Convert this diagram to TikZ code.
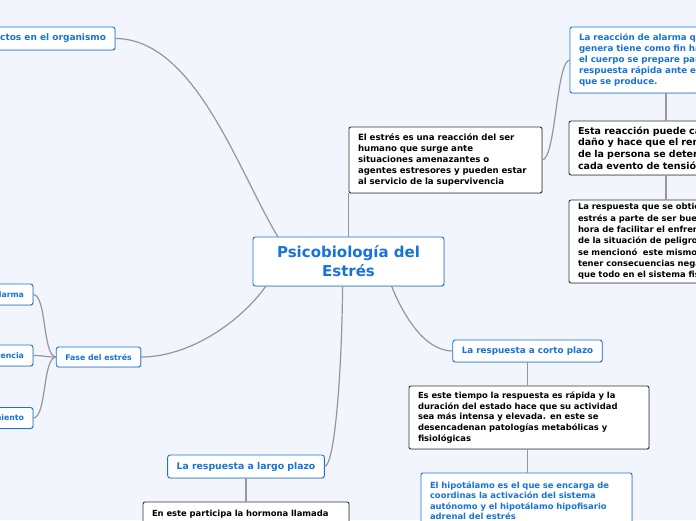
\documentclass[tikz,border=0pt]{standalone}
\usepackage{fontspec}
\setmainfont{DejaVu Sans}
\usetikzlibrary{shadows}
\definecolor{azul}{RGB}{24,115,216}
\definecolor{fondo}{RGB}{242,245,252}
\definecolor{gris}{RGB}{150,150,156}
\begin{document}
\begin{tikzpicture}[x=1pt,y=-1pt,
  fs/.style 2 args={font=\fontsize{#1}{#2}\selectfont\bfseries},
  sombra/.style={drop shadow={shadow xshift=0.8pt,shadow yshift=-0.8pt,opacity=0.25}},
  tema/.style={draw=azul,fill=white,text=azul,rounded corners=2.5pt,line width=0.9pt,inner xsep=9pt,inner ysep=0pt,outer sep=0pt,sombra},
  nota/.style={draw=black!80,fill=white,rounded corners=2pt,line width=0.9pt,anchor=north west,align=left,inner xsep=9pt,inner ysep=0pt,outer sep=0pt,sombra},
  notaz/.style={nota,draw=azul,text=azul},
  con/.style={draw=gris,line width=1.2pt}]
\useasboundingbox (0,0) rectangle (696,520);
\clip (0,0) rectangle (696,520);
\fill[fondo] (0,0) rectangle (696,520);
\node[tema,fs={15}{19},align=center,minimum width=191pt,minimum height=49pt] (psy) at (348.5,261.5) {Psicobiología del\\Estrés};
\node[tema,fs={9}{11},anchor=east,minimum height=23pt] (efe) at (115,38.5) {Efectos en el organismo};
\node[nota,fs={8.6}{11},text width=175pt,minimum height=66pt] (est) at (349,127) {El estrés es una reacción del ser\\humano que surge ante\\situaciones amenazantes o\\agentes estresores y pueden estar\\al servicio de la supervivencia};
\node[notaz,fs={8.7}{11},text width=190pt,minimum height=66pt] (ala1) at (570,27) {La reacción de alarma que se\\genera tiene como fin hacer que\\el cuerpo se prepare para una\\respuesta rápida ante el estímulo\\que se produce.};
\node[nota,fs={9.5}{11.7},text width=190pt,minimum height=54pt] (ala2) at (569,121) {Esta reacción puede causar\\daño y hace que el rendimiento\\de la persona se deteriore en\\cada evento de tensión};
\node[nota,fs={8.4}{11.3},text width=190pt,minimum height=83pt] (ala3) at (569,200) {La respuesta que se obtiene del\\estrés a parte de ser buena a la\\hora de facilitar el enfrentamiento\\de la situación de peligro, como\\se mencionó \ este mismo puede\\tener consecuencias negativas sobre\\que todo en el sistema fisiológico};
\node[tema,fs={7.8}{9},minimum width=83pt,minimum height=20pt] (fase) at (98.5,357) {Fase del estrés};
\node[tema,fs={7.8}{9},anchor=east,minimum height=21pt] (alar) at (33,294.5) {Alarma};
\node[tema,fs={7.8}{9},anchor=east,minimum height=21pt] (resi) at (33,355.5) {Resistencia};
\node[tema,fs={7.8}{9},anchor=east,minimum height=21pt] (agot) at (33,418) {Agotamiento};
\node[tema,fs={8.8}{11},minimum width=149pt,minimum height=22pt] (corto) at (527.5,351) {La respuesta a corto plazo};
\node[nota,fs={8.4}{10.7},text width=222pt,minimum height=63pt] (rap) at (409,386) {Es este tiempo la respuesta es rápida y la\\duración del estado hace que su actividad\\sea más intensa y elevada. en este se\\desencadenan patologías metabólicas y\\fisiológicas};
\node[notaz,fs={8.4}{10.4},text width=193pt,minimum height=55pt] (hipo) at (421,473) {El hipotálamo es el que se encarga de\\coordinas la activación del sistema\\autónomo y el hipotálamo hipofisario\\adrenal del estrés};
\node[tema,fs={9.3}{11},minimum width=156pt,minimum height=23pt] (largo) at (246,466.5) {La respuesta a largo plazo};
\node[nota,fs={8.4}{10.7},text width=188pt,minimum height=24pt] (horm) at (143,502) {En este participa la hormona llamada};
\draw[con] (efe.east) .. controls +(80,0) and +(-40,-66) .. ([xshift=25pt]psy.north west);
\draw[con] (psy.north) -- (psy.north |- est.south);
\draw[con] (est.east) .. controls +(14,0) and +(-14,0) .. (ala1.west);
\draw[con] ([xshift=96pt]ala1.south west) -- ([xshift=96pt]ala1.south west |- ala2.north);
\draw[con] ([xshift=97pt]ala2.south west) -- ([xshift=97pt]ala2.south west |- ala3.north);
\draw[con] (fase.east) .. controls +(50,0) and +(-25,35) .. ([xshift=13pt]psy.south west);
\draw[con] (fase.west) .. controls +(-14,0) and +(14,0) .. (alar.east);
\draw[con] (fase.west) .. controls +(-14,0) and +(14,0) .. (resi.east);
\draw[con] (fase.west) .. controls +(-14,0) and +(14,0) .. (agot.east);
\draw[con] (largo.east) .. controls +(12,0) and +(0,60) .. ([xshift=-6pt]psy.south);
\draw[con] ([xshift=43pt]psy.south) .. controls +(10,25) and +(-30,0) .. (corto.west);
\draw[con] (corto.south) -- (corto.south |- rap.north);
\draw[con] (corto.south |- rap.south) -- (corto.south |- hipo.north);
\draw[con] (largo.south) -- (largo.south |- horm.north);
\end{tikzpicture}
\end{document}
